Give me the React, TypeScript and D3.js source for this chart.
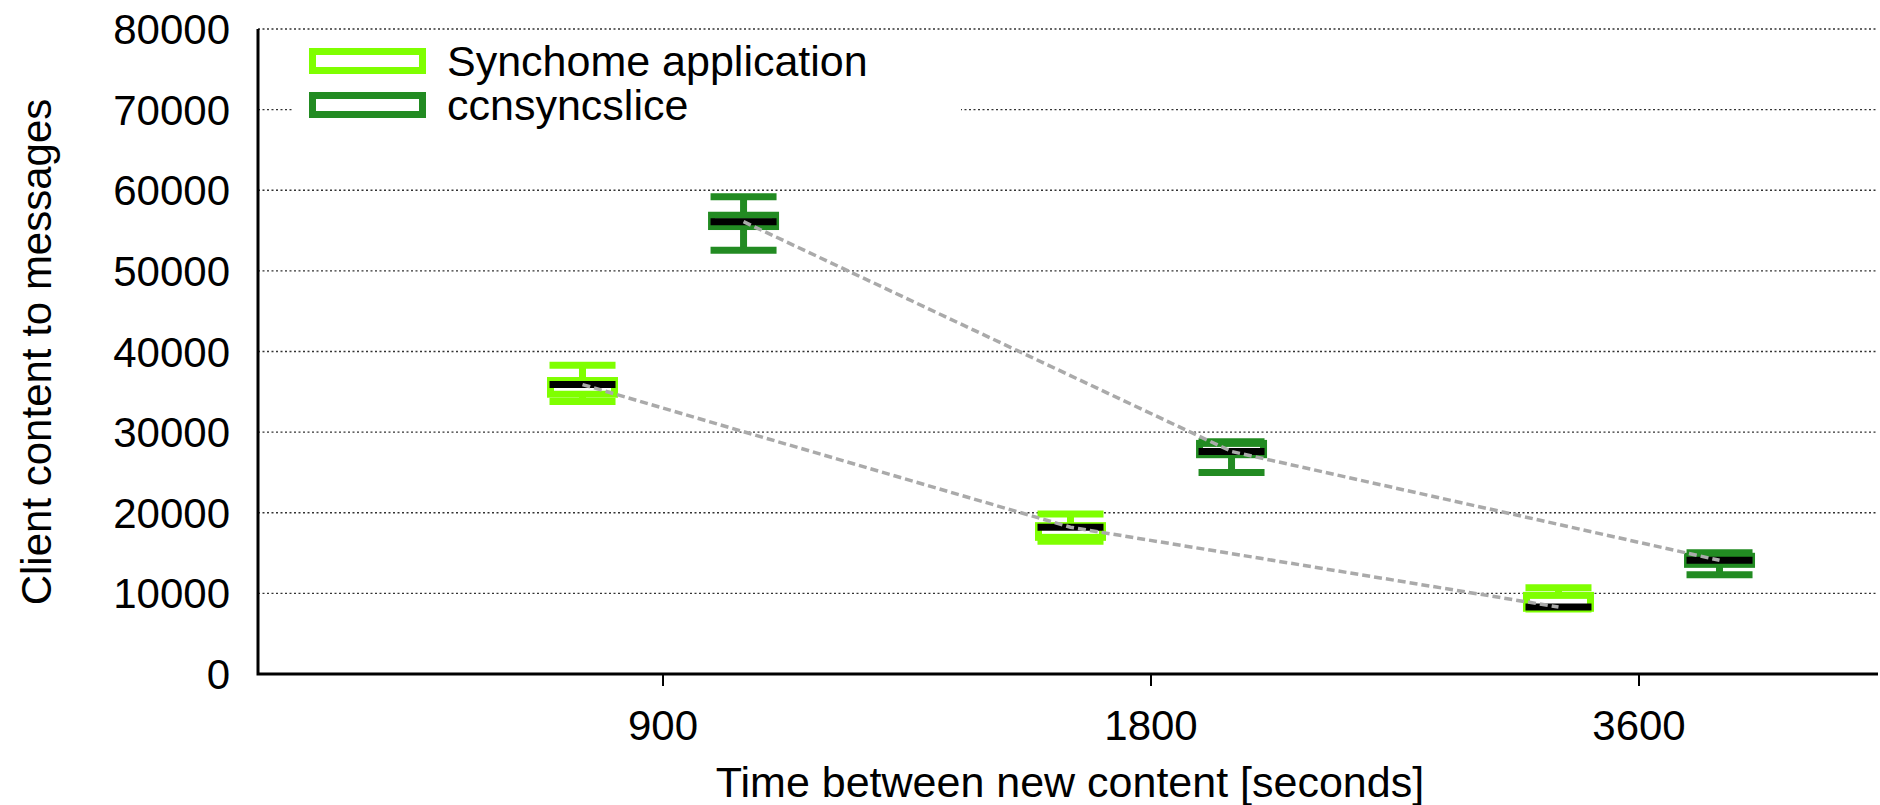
import React, { useEffect, useRef } from "react";
import * as d3 from "d3";

const categories = ["900", "1800", "3600"];
const yTicks = [0, 10000, 20000, 30000, 40000, 50000, 60000, 70000, 80000];

// whisker low, box low, median, box high, whisker high
const synchomeLow = [33800, 16450, 8050];
const synchomeQ1 = [34700, 16950, 8150];
const synchomeMedian = [35900, 18200, 8300];
const synchomeQ3 = [36400, 18400, 9750];
const synchomeHigh = [38300, 19850, 10700];

const ccnLow = [52550, 25000, 12300];
const ccnQ1 = [55500, 27200, 13600];
const ccnMedian = [56100, 27600, 14100];
const ccnQ3 = [56900, 28600, 14600];
const ccnHigh = [59200, 28800, 15050];

const seriesNames = ["Synchome application", "ccnsyncslice"];
const seriesColors = ["#7fff00", "#228b22"];

const W = 1880;
const H = 805;
const FONT = "'Liberation Sans', Arial, Helvetica, sans-serif";

export default function App() {
  const svgRef = useRef<SVGSVGElement | null>(null);

  useEffect(() => {
    if (!svgRef.current) return;
    const svg = d3.select(svgRef.current);
    svg.selectAll("*").remove();

    const x = d3.scaleLinear().domain([0.17, 3.5]).range([258, 1883]);
    const y = d3.scaleLinear().domain([0, 80000]).range([674, 29]);

    const series = [
      { lo: synchomeLow, q1: synchomeQ1, med: synchomeMedian, q3: synchomeQ3, hi: synchomeHigh },
      { lo: ccnLow, q1: ccnQ1, med: ccnMedian, q3: ccnQ3, hi: ccnHigh },
    ];
    const offset = [-0.165, 0.165]; // 박스 위치
    const boxW = 64;
    const capW = 66;
    const lw = 7;

    // grid
    svg
      .append("g")
      .selectAll("line")
      .data(yTicks.filter((t) => t > 0))
      .join("line")
      .attr("x1", 258)
      .attr("x2", 1878)
      .attr("y1", (d) => y(d))
      .attr("y2", (d) => y(d))
      .attr("stroke", "#333")
      .attr("stroke-width", 1.3)
      .attr("stroke-dasharray", "2,2.5");

    // y labels
    svg
      .append("g")
      .selectAll("text")
      .data(yTicks)
      .join("text")
      .attr("x", 230)
      .attr("y", (d) => y(d))
      .attr("dy", "0.36em")
      .attr("text-anchor", "end")
      .attr("font-family", FONT)
      .attr("font-size", 42)
      .attr("fill", "#000")
      .text((d) => d);

    // x ticks + labels
    const xg = svg.append("g");
    categories.forEach((c, i) => {
      xg.append("line")
        .attr("x1", x(i + 1))
        .attr("x2", x(i + 1))
        .attr("y1", 674)
        .attr("y2", 686)
        .attr("stroke", "#000")
        .attr("stroke-width", 2);
      xg.append("text")
        .attr("x", x(i + 1))
        .attr("y", 725)
        .attr("dy", "0.36em")
        .attr("text-anchor", "middle")
        .attr("font-family", FONT)
        .attr("font-size", 42)
        .text(c);
    });

    // axes
    svg
      .append("path")
      .attr("d", `M258,29 V674 H1878`)
      .attr("fill", "none")
      .attr("stroke", "#000")
      .attr("stroke-width", 3);

    // candlesticks
    series.forEach((s, si) => {
      const g = svg.append("g");
      const col = seriesColors[si];
      categories.forEach((_, i) => {
        const cx = x(i + 1 + offset[si]);
        // whiskers
        g.append("line")
          .attr("x1", cx).attr("x2", cx)
          .attr("y1", y(s.q3[i])).attr("y2", y(s.hi[i]))
          .attr("stroke", col).attr("stroke-width", lw);
        g.append("line")
          .attr("x1", cx).attr("x2", cx)
          .attr("y1", y(s.q1[i])).attr("y2", y(s.lo[i]))
          .attr("stroke", col).attr("stroke-width", lw);
        [s.hi[i], s.lo[i]].forEach((v) => {
          g.append("line")
            .attr("x1", cx - capW / 2).attr("x2", cx + capW / 2)
            .attr("y1", y(v)).attr("y2", y(v))
            .attr("stroke", col).attr("stroke-width", lw);
        });
        g.append("rect")
          .attr("x", cx - boxW / 2)
          .attr("y", y(s.q3[i]))
          .attr("width", boxW)
          .attr("height", y(s.q1[i]) - y(s.q3[i]))
          .attr("fill", "none")
          .attr("stroke", col)
          .attr("stroke-width", lw);
        g.append("line")
          .attr("x1", cx - capW / 2).attr("x2", cx + capW / 2)
          .attr("y1", y(s.med[i])).attr("y2", y(s.med[i]))
          .attr("stroke", "#000").attr("stroke-width", lw);
      });
    });

    // median connecting lines
    series.forEach((s, si) => {
      const line = d3
        .line<number>()
        .x((_, i) => x(i + 1 + offset[si]))
        .y((d) => y(d));
      svg
        .append("path")
        .datum(s.med)
        .attr("d", line)
        .attr("fill", "none")
        .attr("stroke", "#aaa")
        .attr("stroke-width", 3.5)
        .attr("stroke-dasharray", "8,4");
    });

    // legend
    const lg = svg.append("g");
    lg.append("rect")
      .attr("x", 292)
      .attr("y", 35)
      .attr("width", 669)
      .attr("height", 92)
      .attr("fill", "#fff");
    seriesNames.forEach((n, i) => {
      const cy = 61 + i * 44;
      lg.append("rect")
        .attr("x", 312.5)
        .attr("y", cy - 9.5)
        .attr("width", 110)
        .attr("height", 19)
        .attr("fill", "none")
        .attr("stroke", seriesColors[i])
        .attr("stroke-width", lw);
      lg.append("text")
        .attr("x", 447)
        .attr("y", cy)
        .attr("dy", "0.36em")
        .attr("font-family", FONT)
        .attr("font-size", 43)
        .text(n);
    });

    // axis titles
    svg
      .append("text")
      .attr("x", 1070)
      .attr("y", 782)
      .attr("dy", "0.36em")
      .attr("text-anchor", "middle")
      .attr("font-family", FONT)
      .attr("font-size", 43)
      .text("Time between new content [seconds]");
    svg
      .append("text")
      .attr("transform", `translate(36,352) rotate(-90)`)
      .attr("dy", "0.36em")
      .attr("text-anchor", "middle")
      .attr("font-family", FONT)
      .attr("font-size", 42)
      .text("Client content to messages");
  }, []);

  return (
    <svg
      ref={svgRef}
      width={W}
      height={H}
      style={{ position: "absolute", left: 0, top: 0, background: "#fff" }}
    />
  );
}
